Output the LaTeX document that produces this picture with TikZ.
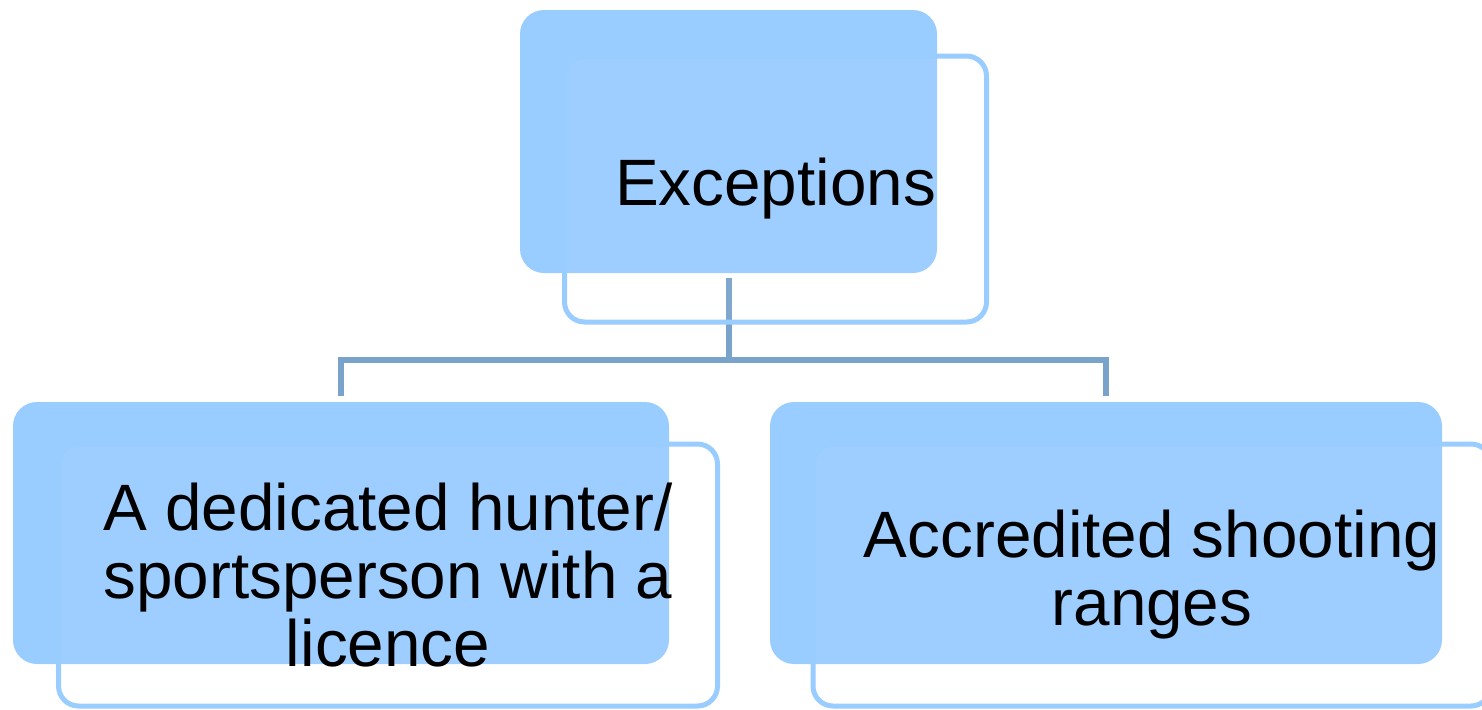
\documentclass[tikz,border=0pt]{standalone}
\usepackage{fontspec}
\setmainfont{Liberation Sans}
\usepackage{tikz}
\usetikzlibrary{calc,positioning}
\definecolor{boxblue}{RGB}{153,204,255}
\definecolor{linkblue}{RGB}{122,163,204}

\tikzset{
  fillbox/.style={rectangle,rounded corners=12pt,fill=boxblue,draw=none,inner sep=0pt},
  framebox/.style={rectangle,rounded corners=10pt,draw=boxblue,line width=2.5pt,
    fill=white,fill opacity=0.05,text opacity=1,inner sep=0pt,align=center,
    font=\fontsize{32.8}{34}\selectfont},
  link/.style={draw=linkblue,line width=3pt}
}

\begin{document}
\begin{tikzpicture}[x=1pt,y=1pt]
  \useasboundingbox (0,0) rectangle (741,-354.5);
  % filled boxes behind
  \node[fillbox,minimum width=208.5pt,minimum height=131.5pt] (exc) at (364.25,-70.75) {};
  \node[fillbox,minimum width=328pt,minimum height=131pt] (hunter) at (170.5,-266.5) {};
  \node[fillbox,minimum width=336pt,minimum height=131pt] (ranges) at (553,-266.5) {};
  % tree lines
  \coordinate (split) at ($(exc.south)+(0,-43.25)$);
  \draw[link] ([yshift=-2.5pt]exc.south) -- (split);
  \draw[link] (split) -| ([yshift=3pt]hunter.north);
  \draw[link] (split) -| ([yshift=3pt]ranges.north);
  % outlined boxes with the text
  \node[framebox,minimum width=211pt,minimum height=133pt] (excT) at (387.75,-94.5) {Exceptions};
  \node[framebox,minimum width=329.5pt,minimum height=131pt] (hunterT) at (194,-287.5)
    {A dedicated hunter/\\sportsperson with a\\licence};
  \node[framebox,minimum width=339pt,minimum height=131pt] (rangesT) at (576,-287.5)
    {Accredited shooting\\ranges};
\end{tikzpicture}
\end{document}
